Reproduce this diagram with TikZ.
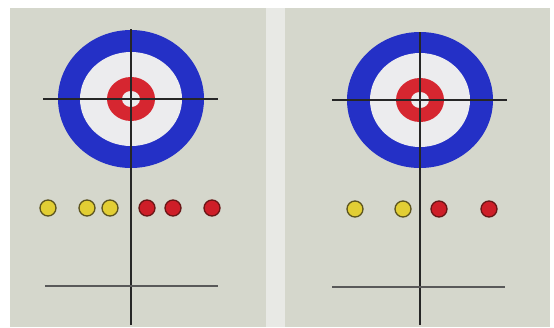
\documentclass[tikz,border=0pt]{standalone}
\usetikzlibrary{positioning}

\definecolor{ice}{RGB}{213,215,204}
\definecolor{icegap}{RGB}{232,233,229}
\definecolor{houseblue}{RGB}{36,48,198}
\definecolor{housered}{RGB}{214,38,48}
\definecolor{housewhite}{RGB}{236,236,238}
\definecolor{stoneyellow}{RGB}{226,206,52}
\definecolor{yellowrim}{RGB}{92,84,30}
\definecolor{stonered}{RGB}{206,30,40}
\definecolor{redrim}{RGB}{105,22,22}

\begin{document}
\begin{tikzpicture}[
  x=1pt, y=-1pt,
  stone/.style={circle, line width=1.3pt, minimum size=16pt, inner sep=0pt},
  yellowstone/.style={stone, draw=yellowrim, fill=stoneyellow},
  redstone/.style={stone, draw=redrim, fill=stonered},
  sheetline/.style={line width=1.3pt, black!85},
  hogline/.style={line width=1.3pt, black!65}
]
  \useasboundingbox (0,0) rectangle (554,327);

  % Ice background
  \fill[white] (0,0) rectangle (554,327);
  \fill[ice] (10,8) rectangle (266,327);
  \fill[icegap] (266,8) rectangle (285,327);
  \fill[ice] (285,8) rectangle (550,327);

  % Left house
  \coordinate (lc) at (131,99);
  \fill[houseblue] (lc) ellipse [x radius=73, y radius=69];
  \fill[housewhite] (lc) ellipse [x radius=51, y radius=47];
  \fill[housered] (lc) ellipse [x radius=24, y radius=22];
  \fill[housewhite] (lc) ellipse [x radius=9, y radius=8];

  % Left lines
  \coordinate (ltop) at (131,29);
  \coordinate (lbot) at (131,325);
  \coordinate (lteeW) at (43,99);
  \coordinate (lteeE) at (218,99);
  \coordinate (lhogW) at (45,286);
  \coordinate (lhogE) at (218,286);
  \draw[sheetline] (ltop) -- (lbot);
  \draw[sheetline] (lteeW) -- (lteeE);
  \draw[hogline] (lhogW) -- (lhogE);

  % Left stones
  \node[yellowstone] (ly1) at (48,208) {};
  \node[yellowstone] (ly2) at (87,208) {};
  \node[yellowstone] (ly3) at (110,208) {};
  \node[redstone] (lr1) at (147,208) {};
  \node[redstone] (lr2) at (173,208) {};
  \node[redstone] (lr3) at (212,208) {};

  % Right house
  \coordinate (rc) at (420,100);
  \fill[houseblue] (rc) ellipse [x radius=73, y radius=68];
  \fill[housewhite] (rc) ellipse [x radius=50, y radius=47];
  \fill[housered] (rc) ellipse [x radius=24, y radius=22];
  \fill[housewhite] (rc) ellipse [x radius=9, y radius=8];

  % Right lines
  \coordinate (rtop) at (420,32);
  \coordinate (rbot) at (420,325);
  \coordinate (rteeW) at (332,100);
  \coordinate (rteeE) at (507,100);
  \coordinate (rhogW) at (332,287);
  \coordinate (rhogE) at (505,287);
  \draw[sheetline] (rtop) -- (rbot);
  \draw[sheetline] (rteeW) -- (rteeE);
  \draw[hogline] (rhogW) -- (rhogE);

  % Right stones
  \node[yellowstone] (ry1) at (355,209) {};
  \node[yellowstone] (ry2) at (403,209) {};
  \node[redstone] (rr1) at (439,209) {};
  \node[redstone] (rr2) at (489,209) {};
\end{tikzpicture}
\end{document}
